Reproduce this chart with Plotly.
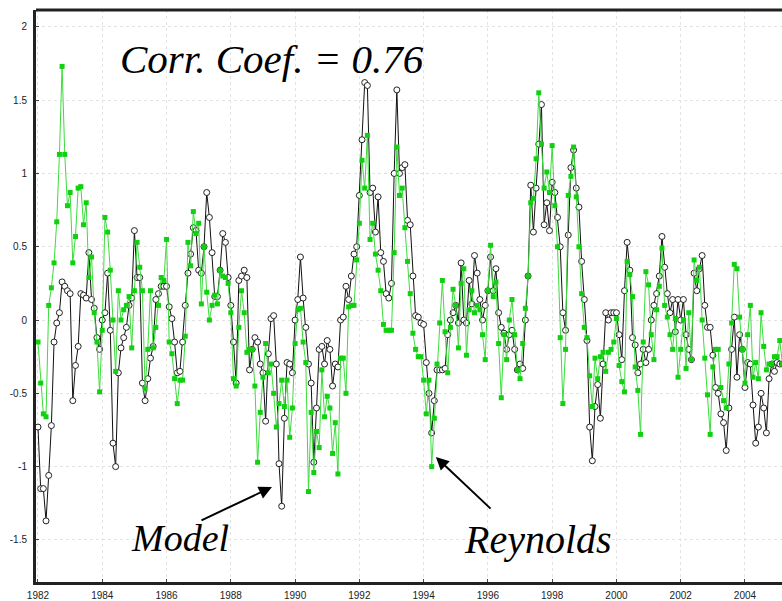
import numpy as np
import plotly.graph_objects as go

start_year = 1982
year_ticks = list(range(1982, 2005, 2))
year_labels = [str(y) for y in year_ticks]
y_ticks = [-1.5, -1, -0.5, 0, 0.5, 1, 1.5, 2]
y_labels = ["-1.5", "-1", "-0.5", "0", "0.5", "1", "1.5", "2"]

model = [
    -0.73, -1.15, -1.15, -1.37, -1.06, -0.72, -0.15, -0.02, 0.05, 0.26, 0.23, 0.20,
    0.18, -0.55, -0.31, -0.18, 0.18, 0.17, 0.15, 0.46, 0.14, 0.08, -0.12, -0.20,
    0.00, 0.05, 0.32, -0.07, -0.84, -1.00, -0.36, -0.19, -0.12, -0.05, 0.10, 0.15,
    0.61, 0.29, 0.29, -0.43, -0.55, -0.40, -0.26, -0.18, 0.14, 0.18, 0.23, 0.23,
    0.23, 0.09, 0.01, -0.15, -0.36, -0.35, -0.15, 0.10, 0.32, 0.45, 0.63, 0.61,
    0.34, 0.32, 0.50, 0.87, 0.70, 0.46, 0.16, 0.16, 0.34, 0.59, 0.53, 0.29,
    0.10, -0.15, -0.43, 0.27, 0.30, 0.34, 0.29, -0.34, -0.20, -0.12, -0.15, -0.30,
    -0.36, -0.69, -0.23, 0.01, 0.03, -0.30, -0.98, -1.27, -0.67, -0.29, -0.30, -0.36,
    0.00, 0.14, 0.43, 0.15, -0.05, -0.30, -0.43, -0.97, -0.60, -0.20, -0.18, -0.30,
    -0.14, -0.20, -0.45, -0.30, -0.32, 0.00, 0.02, 0.23, 0.14, 0.30, 0.45, 0.50,
    0.85, 1.23, 1.62, 1.60, 0.87, 0.90, 0.60, 0.84, 0.46, 0.40, 0.18, 0.15,
    0.25, 1.00, 1.57, 1.00, 1.04, 1.06, 0.68, 0.65, 0.30, 0.03, 0.02, -0.02,
    -0.03, -0.29, -0.50, -0.77, -0.55, -0.34, -0.34, -0.34, -0.33, -0.10, 0.00, 0.05,
    0.10, -0.02, 0.39, 0.00, -0.02, 0.27, 0.11, 0.44, 0.32, 0.14, 0.00, 0.10,
    0.20, 0.43, 0.20, 0.35, 0.05, -0.05, -0.09, -0.20, -0.10, -0.07, -0.20, -0.34,
    -0.30, -0.33, 0.00, 0.30, 0.92, 0.60, 0.90, 1.20, 1.47, 0.65, 0.80, 0.61,
    0.94, 0.87, 0.70, 0.50, 0.05, -0.07, 0.58, 1.04, 1.16, 0.90, 0.77, 0.40,
    0.14, -0.14, -0.73, -0.96, -0.59, -0.44, -0.67, -0.30, 0.05, 0.00, 0.05, 0.05,
    0.05, -0.10, -0.27, 0.20, 0.53, 0.34, -0.12, -0.17, -0.36, -0.30, -0.20, -0.29,
    -0.20, 0.00, 0.10, 0.18, 0.30, 0.57, 0.36, 0.18, 0.05, 0.14, -0.08, 0.14,
    0.00, 0.14, -0.10, -0.20, -0.27, 0.32, 0.20, 0.35, 0.44, 0.10, -0.05, -0.05,
    -0.24, -0.46, -0.50, -0.64, -0.70, -0.89, -0.60, -0.20, 0.02, -0.39, -0.10, -0.20,
    -0.46, -0.29, -0.30, -0.58, -0.84, -0.73, -0.50, -0.60, -0.77, -0.40, -0.30, -0.35,
    -0.29, -0.30, -0.30,
]

reynolds = [
    -0.15, -0.43, -0.64, -0.66, 0.10, 0.22, 0.39, 0.67, 1.13, 1.73, 1.13, 0.78,
    0.87, 0.39, 0.57, 0.90, 0.91, 0.65, 0.80, 0.29, 0.43, 0.05, -0.15, -0.49,
    -0.07, 0.70, 0.60, 0.34, 0.00, -0.35, 0.20, 0.00, 0.07, 0.10, 0.16, -0.19,
    0.20, 0.53, 0.36, 0.20, -0.47, -0.20, 0.20, -0.19, -0.05, 0.10, 0.29, 0.27,
    0.55, -0.15, -0.23, -0.40, -0.57, -0.41, -0.41, -0.11, 0.53, 0.37, 0.74, 0.59,
    0.66, 0.11, 0.50, 0.19, 0.00, 0.10, 0.17, 0.11, 0.34, 0.30, 0.29, 0.25,
    0.05, -0.40, -0.45, -0.05, 0.20, 0.05, -0.22, -0.20, -0.20, -0.45, -0.97, -0.63,
    -0.39, -0.16, -0.36, -0.30, -0.50, -0.73, -0.57, -0.41, -0.59, -0.41, -0.80, -0.60,
    -0.16, 0.07, 0.08, -0.15, -0.29, -1.17, -0.63, -1.04, -0.76, -0.87, -0.34, -0.66,
    -0.52, -0.60, -0.91, -0.70, -1.05, -0.26, -0.26, -0.50, 0.09, 0.10, 0.10, 0.41,
    0.66, 1.09, 0.90, 1.26, 0.55, 0.66, 0.45, 0.34, 0.20, -0.03, -0.07, -0.07,
    -0.07, 0.46, 1.18, 0.85, 0.90, 0.63, 0.40, 0.18, -0.09, -0.20, -0.25, -0.25,
    -0.41, -0.64, -0.41, -1.00, -0.67, -0.30, -0.02, 0.27, -0.08, -0.36, -0.05, 0.21,
    0.10, -0.19, 0.25, 0.35, -0.24, 0.07, 0.20, 0.05, 0.10, 0.07, -0.10, -0.27,
    0.20, 0.51, 0.16, 0.26, -0.16, -0.53, -0.10, -0.27, 0.00, 0.14, -0.10, -0.34,
    -0.40, -0.16, 0.08, 0.30, 0.80, 0.83, 1.10, 1.55, 1.20, 0.90, 1.01, 0.87,
    1.19, 0.78, 0.50, -0.12, -0.57, -0.20, 0.85, 0.98, 1.18, 0.84, 0.50, 0.18,
    -0.05, -0.12, -0.38, -0.59, -0.26, -0.40, -0.25, -0.22, -0.35, -0.22, -0.20, -0.15,
    0.01, -0.31, -0.42, -0.49, 0.40, 0.31, 0.16, -0.32, -0.48, -0.78, -0.15, 0.33,
    0.24, -0.10, -0.27, 0.07, 0.23, 0.49, 0.10, 0.02, -0.10, -0.20, 0.01, -0.39,
    -0.20, 0.00, -0.33, 0.05, -0.27, 0.41, 0.27, 0.36, 0.00, -0.26, -0.51, -0.78,
    -0.32, -0.20, -0.20, -0.46, -0.55, -0.60, -0.30, -0.02, 0.38, 0.35, 0.02, -0.20,
    -0.43, -0.10, 0.10, -0.39, -0.29, -0.40, 0.05, -0.18, -0.34, -0.30, -0.30, -0.25,
    -0.25, -0.14, -0.30,
]

t_model = start_year + np.arange(len(model)) / 12.0
t_rey = start_year + np.arange(len(reynolds)) / 12.0

fig = go.Figure()
fig.add_trace(go.Scatter(
    x=t_model, y=model, mode="lines+markers", name="Model",
    line=dict(color="#111111", width=1),
    marker=dict(symbol="circle", size=6, color="white",
                line=dict(color="#222222", width=1)),
))
fig.add_trace(go.Scatter(
    x=t_rey, y=reynolds, mode="lines+markers", name="Reynolds",
    line=dict(color="#3ddc3d", width=1),
    marker=dict(symbol="square", size=5, color="#10d010", line=dict(width=0)),
))

serif = "Liberation Serif, Times New Roman, serif"
fig.add_annotation(x=0.1099, y=0.9143, xref="paper", yref="paper",
                   text="<i>Corr. Coef. = 0.76</i>", showarrow=False,
                   xanchor="left", yanchor="middle",
                   font=dict(family=serif, size=41, color="black"))
fig.add_annotation(x=0.1247, y=0.0770, xref="paper", yref="paper",
                   text="<i>Model</i>", showarrow=False,
                   xanchor="left", yanchor="middle",
                   font=dict(family=serif, size=38, color="black"))
fig.add_annotation(x=0.5710, y=0.0750, xref="paper", yref="paper",
                   text="<i>Reynolds</i>", showarrow=False,
                   xanchor="left", yanchor="middle",
                   font=dict(family=serif, size=40, color="black"))
# arrows
fig.add_annotation(x=1989.28, y=-1.139, ax=1987.04, ay=-1.371,
                   xref="x", yref="y", axref="x", ayref="y", text="",
                   showarrow=True, arrowhead=2, arrowsize=1.3, arrowwidth=2,
                   arrowcolor="black")
fig.add_annotation(x=1994.38, y=-0.934, ax=1996.13, ay=-1.296,
                   xref="x", yref="y", axref="x", ayref="y", text="",
                   showarrow=True, arrowhead=2, arrowsize=1.3, arrowwidth=2,
                   arrowcolor="black")

tickfont = dict(family="Liberation Sans, Arial, sans-serif", size=10, color="#222222")
fig.update_layout(
    width=782, height=601,
    margin=dict(l=36, r=0, t=10, b=19),
    paper_bgcolor="white", plot_bgcolor="white",
    showlegend=False,
    xaxis=dict(range=[1981.938, 2005.152], tickvals=year_ticks, ticktext=year_labels,
               showgrid=True, gridcolor="#e2e2e2", griddash="dot", gridwidth=1,
               showline=True, linecolor="#222222", linewidth=3, mirror=False,
               ticks="inside", ticklen=3, tickcolor="#444444",
               tickfont=tickfont, ticklabelstandoff=2, zeroline=False),
    yaxis=dict(range=[-1.787, 2.115], tickvals=y_ticks, ticktext=y_labels,
               showgrid=True, gridcolor="#e2e2e2", griddash="dot", gridwidth=1,
               showline=True, linecolor="#222222", linewidth=3,
               ticks="inside", ticklen=3, tickcolor="#444444",
               tickfont=tickfont, ticklabelstandoff=4, zeroline=False),
)
# top frame line
fig.add_shape(type="line", xref="paper", yref="paper", x0=0, x1=1, y0=1, y1=1,
              line=dict(color="#222222", width=3))

fig.write_html("out.html")
